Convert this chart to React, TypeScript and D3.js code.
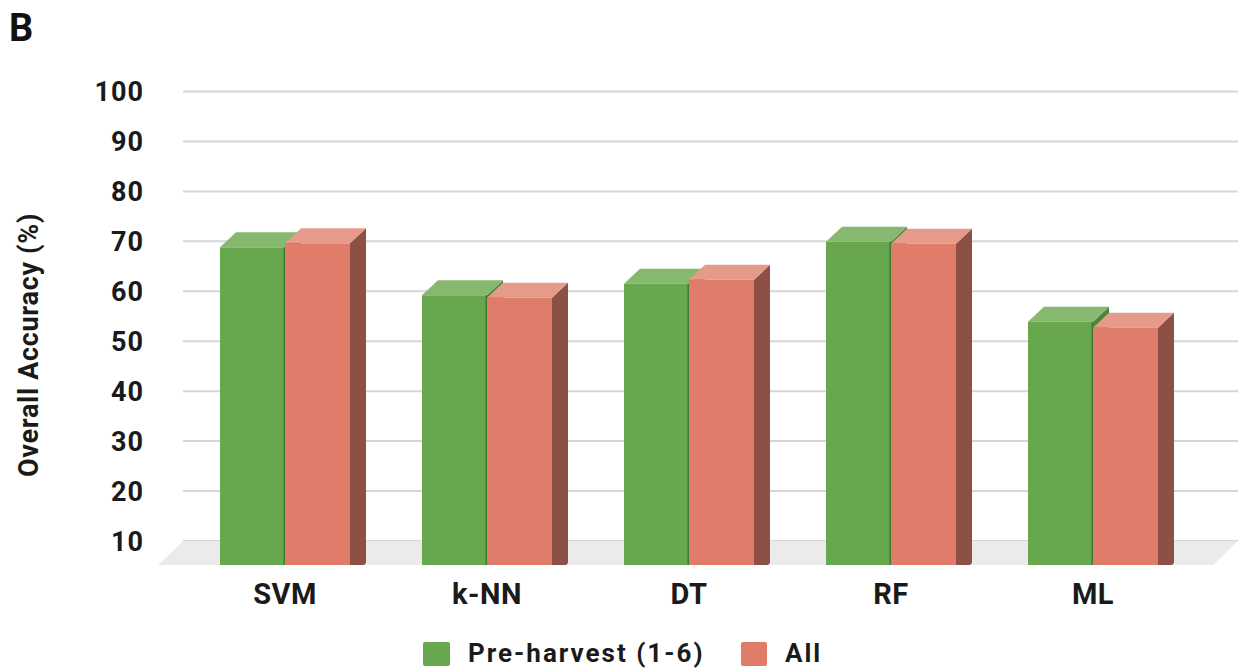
import React from "react";
import * as d3 from "d3";

// Classifier accuracy, two feature sets
const categories = ["SVM", "k-NN", "DT", "RF", "ML"];
const preHarvest = [68.8, 59.2, 61.5, 69.9, 53.9];
const allFeatures = [69.6, 58.7, 62.3, 69.5, 52.7];
const yTicks = [10, 20, 30, 40, 50, 60, 70, 80, 90, 100];
const seriesNames = ["Pre-harvest (1-6)", "All"];

const W = 1238;
const H = 669;
const FONT = "Roboto, 'Noto Sans', sans-serif";

// 3D look: depth offset of the floor and of each bar
const floorDx = 25;
const floorDy = 24;
const barDx = 16;
const barDy = 15;

const palette = [
  { front: "#67a84f", top: "#86b870", side: "#4a8538", edge: "#3f7a30" },
  { front: "#df7c6a", top: "#e59a8a", side: "#8c5044", edge: "#8c5044" },
];

export default function App() {
  const y = d3.scaleLinear().domain([10, 100]).range([541, 91.5]);
  const x = d3.scaleBand<string>().domain(categories).range([184, 1194]);
  const barW = 65;
  const gridLeft = 183;
  const gridRight = 1238;
  const floorBack = y(10);
  const floorFront = floorBack + floorDy;

  const bar = (x0: number, v: number, c: typeof palette[0], key: string, edgeRight: boolean) => {
    const yt = y(v);
    const x1 = x0 + barW;
    const top = `M${x0},${yt}L${x0 + barDx},${yt - barDy}L${x1 + barDx},${yt - barDy}L${x1},${yt}Z`;
    const side = `M${x1},${yt}L${x1 + barDx},${yt - barDy}L${x1 + barDx},${floorFront - 2}L${x1 + barDx - 2},${floorFront}L${x1},${floorFront}Z`;
    return (
      <g key={key}>
        <path d={side} fill={c.side} />
        <path d={top} fill={c.top} />
        <rect x={x0} y={yt} width={barW} height={floorFront - yt} fill={c.front} />
        {edgeRight && (
          <line x1={x1 - 0.75} x2={x1 - 0.75} y1={yt} y2={floorFront} stroke={c.edge} strokeWidth={1.5} />
        )}
      </g>
    );
  };

  return (
    <svg width={W} height={H} style={{ position: "absolute", left: 0, top: 0, background: "#fff" }}>
      <text x={9} y={41} fontFamily={FONT} fontWeight={700} fontSize={38} fill="#111">B</text>

      {/* back-wall gridlines */}
      {yTicks.map((t) => (
        <line key={t} x1={gridLeft} x2={gridRight} y1={y(t)} y2={y(t)} stroke="#d6d6d6" strokeWidth={2} />
      ))}

      {/* floor */}
      <path
        d={`M${gridLeft},${floorBack}L${gridRight},${floorBack}L${gridRight - floorDx},${floorFront}L${gridLeft - floorDx},${floorFront}Z`}
        fill="#ebebeb"
      />

      {/* y tick labels */}
      {yTicks.map((t) => (
        <text key={t} x={144} y={y(t)} dy="0.36em" textAnchor="end" fontFamily={FONT} fontWeight={700} fontSize={27} letterSpacing={1} fill="#1a1a1a">
          {t}
        </text>
      ))}

      <text
        transform={`translate(38,345) rotate(-90)`}
        textAnchor="middle"
        fontFamily={FONT}
        fontWeight={700}
        fontSize={27}
        letterSpacing={0.7}
        fill="#1a1a1a"
      >
        Overall Accuracy (%)
      </text>

      {/* bars */}
      {categories.map((cat, i) => {
        const c = (x(cat) as number) + x.bandwidth() / 2;
        return (
          <g key={cat}>
            {bar(c - barW, preHarvest[i], palette[0], "g", true)}
            {bar(c, allFeatures[i], palette[1], "r", false)}
            <text x={c} y={604} textAnchor="middle" fontFamily={FONT} fontWeight={700} fontSize={29} letterSpacing={0.5} fill="#1a1a1a">
              {cat}
            </text>
          </g>
        );
      })}

      {/* legend */}
      <g>
        <rect x={423} y={642} width={27} height={24} rx={2} fill={palette[0].front} />
        <text x={468} y={662} fontFamily={FONT} fontWeight={700} fontSize={26} letterSpacing={2} fill="#1a1a1a">{seriesNames[0]}</text>
        <rect x={741} y={642} width={26} height={24} rx={2} fill={palette[1].front} />
        <text x={785} y={662} fontFamily={FONT} fontWeight={700} fontSize={26} letterSpacing={2} fill="#1a1a1a">{seriesNames[1]}</text>
      </g>
    </svg>
  );
}
